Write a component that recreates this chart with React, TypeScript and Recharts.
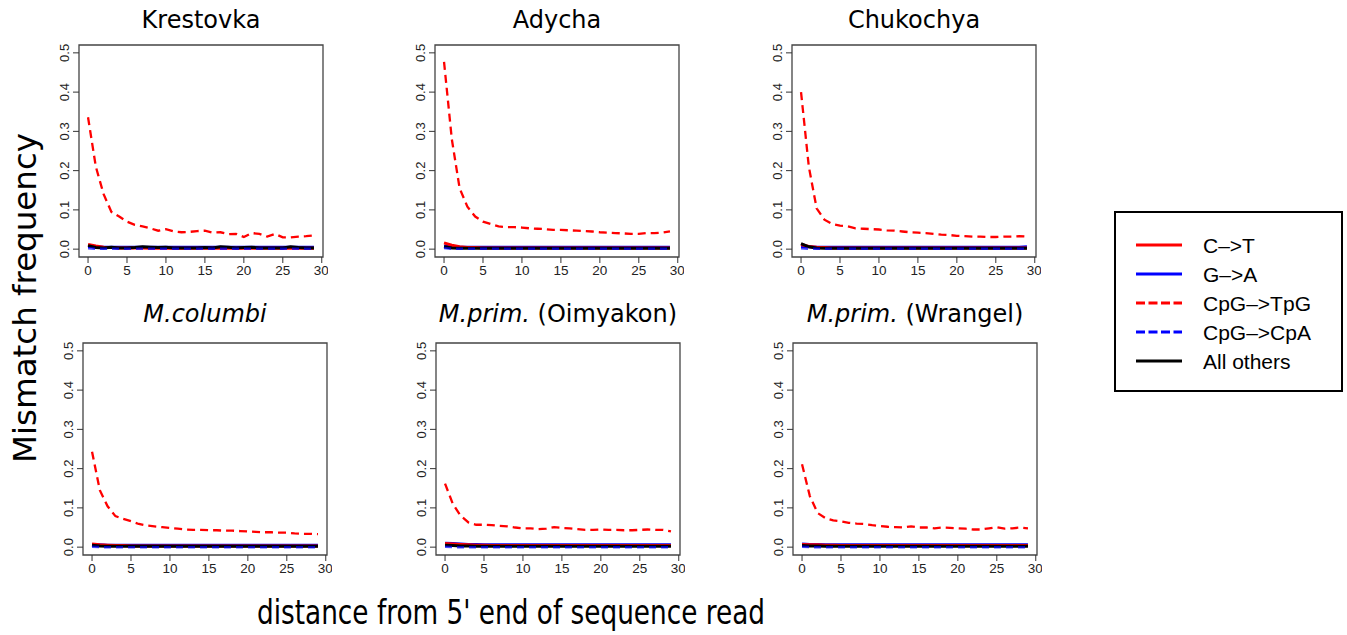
import React from "react";
import { LineChart, Line, XAxis, YAxis, ReferenceArea } from "recharts";

// read position along the read (0..29)
const POS = [0, 1, 2, 3, 4, 5, 6, 7, 8, 9, 10, 11, 12, 13, 14, 15, 16, 17, 18, 19, 20, 21, 22, 23, 24, 25, 26, 27, 28, 29];
const X_TICKS = [0, 5, 10, 15, 20, 25, 30];
const Y_TICKS = [0, 0.1, 0.2, 0.3, 0.4, 0.5];

const TITLES = ["Krestovka", "Adycha", "Chukochya", "M.columbi", "M.prim.|(Oimyakon)", "M.prim.|(Wrangel)"];

// CpG->TpG (red dashed)
const TPG_KRE = [0.336, 0.21, 0.14, 0.095, 0.083, 0.07, 0.062, 0.058, 0.053, 0.047, 0.051, 0.045, 0.043, 0.044, 0.046, 0.047, 0.042, 0.043, 0.038, 0.039, 0.031, 0.041, 0.039, 0.032, 0.039, 0.03, 0.03, 0.032, 0.033, 0.035];
const TPG_ADY = [0.477, 0.28, 0.155, 0.108, 0.083, 0.07, 0.064, 0.058, 0.056, 0.056, 0.055, 0.053, 0.052, 0.051, 0.049, 0.049, 0.048, 0.047, 0.046, 0.045, 0.043, 0.042, 0.041, 0.04, 0.039, 0.039, 0.041, 0.041, 0.042, 0.045];
const TPG_CHU = [0.4, 0.21, 0.104, 0.075, 0.064, 0.06, 0.058, 0.053, 0.052, 0.051, 0.05, 0.048, 0.047, 0.045, 0.043, 0.042, 0.041, 0.039, 0.037, 0.036, 0.034, 0.033, 0.032, 0.032, 0.031, 0.031, 0.032, 0.032, 0.033, 0.032];
const TPG_COL = [0.243, 0.145, 0.104, 0.079, 0.072, 0.066, 0.059, 0.055, 0.053, 0.051, 0.049, 0.047, 0.045, 0.044, 0.044, 0.043, 0.043, 0.042, 0.042, 0.041, 0.04, 0.039, 0.038, 0.038, 0.037, 0.037, 0.035, 0.034, 0.034, 0.033];
const TPG_OIM = [0.162, 0.11, 0.08, 0.063, 0.057, 0.057, 0.056, 0.054, 0.053, 0.05, 0.048, 0.048, 0.046, 0.047, 0.051, 0.049, 0.048, 0.046, 0.044, 0.044, 0.045, 0.044, 0.044, 0.043, 0.043, 0.044, 0.045, 0.044, 0.044, 0.04];
const TPG_WRA = [0.211, 0.13, 0.087, 0.074, 0.068, 0.066, 0.062, 0.06, 0.059, 0.056, 0.054, 0.052, 0.051, 0.05, 0.053, 0.05, 0.05, 0.048, 0.05, 0.049, 0.048, 0.047, 0.045, 0.045, 0.048, 0.051, 0.047, 0.048, 0.05, 0.048];

// C->T (red solid)
const CT_KRE = [0.012, 0.008, 0.005, 0.004, 0.003, 0.003, 0.003, 0.003, 0.002, 0.002, 0.002, 0.002, 0.002, 0.002, 0.002, 0.002, 0.002, 0.002, 0.002, 0.002, 0.002, 0.002, 0.002, 0.002, 0.002, 0.002, 0.002, 0.002, 0.002, 0.002];
const CT_ADY = [0.016, 0.01, 0.006, 0.004, 0.004, 0.003, 0.003, 0.003, 0.003, 0.003, 0.003, 0.003, 0.003, 0.003, 0.003, 0.003, 0.003, 0.003, 0.003, 0.003, 0.003, 0.003, 0.003, 0.003, 0.003, 0.003, 0.003, 0.003, 0.003, 0.003];
const CT_CHU = [0.012, 0.007, 0.005, 0.004, 0.003, 0.003, 0.003, 0.003, 0.003, 0.003, 0.003, 0.003, 0.003, 0.003, 0.003, 0.003, 0.003, 0.003, 0.003, 0.003, 0.003, 0.003, 0.003, 0.003, 0.003, 0.003, 0.003, 0.003, 0.003, 0.003];
const CT_COL = [0.008, 0.006, 0.005, 0.004, 0.004, 0.003, 0.003, 0.003, 0.003, 0.003, 0.003, 0.003, 0.003, 0.003, 0.003, 0.003, 0.003, 0.003, 0.003, 0.003, 0.003, 0.003, 0.003, 0.003, 0.003, 0.003, 0.003, 0.003, 0.003, 0.003];
const CT_OIM = [0.009, 0.008, 0.007, 0.006, 0.005, 0.005, 0.004, 0.004, 0.004, 0.004, 0.004, 0.004, 0.004, 0.004, 0.004, 0.004, 0.004, 0.004, 0.004, 0.004, 0.004, 0.004, 0.004, 0.004, 0.004, 0.004, 0.004, 0.004, 0.004, 0.004];
const CT_WRA = [0.007, 0.006, 0.006, 0.005, 0.005, 0.004, 0.004, 0.004, 0.004, 0.004, 0.004, 0.004, 0.004, 0.004, 0.004, 0.004, 0.004, 0.004, 0.004, 0.004, 0.004, 0.004, 0.004, 0.004, 0.004, 0.004, 0.004, 0.004, 0.004, 0.004];

// G->A (blue solid)
const GA_KRE = [0.007, 0.006, 0.005, 0.005, 0.005, 0.005, 0.005, 0.005, 0.005, 0.005, 0.005, 0.005, 0.005, 0.005, 0.005, 0.005, 0.005, 0.005, 0.005, 0.005, 0.005, 0.005, 0.005, 0.005, 0.005, 0.005, 0.005, 0.005, 0.005, 0.005];
const GA_ADY = [0.008, 0.006, 0.005, 0.005, 0.005, 0.005, 0.005, 0.005, 0.005, 0.005, 0.005, 0.005, 0.005, 0.005, 0.005, 0.005, 0.005, 0.005, 0.005, 0.005, 0.005, 0.005, 0.005, 0.005, 0.005, 0.005, 0.005, 0.005, 0.005, 0.005];
const GA_CHU = [0.007, 0.006, 0.005, 0.005, 0.005, 0.005, 0.005, 0.005, 0.005, 0.005, 0.005, 0.005, 0.005, 0.005, 0.005, 0.005, 0.005, 0.005, 0.005, 0.005, 0.005, 0.005, 0.005, 0.005, 0.005, 0.005, 0.005, 0.005, 0.005, 0.006];
const GA_COL = [0.006, 0.006, 0.005, 0.005, 0.005, 0.005, 0.005, 0.005, 0.005, 0.005, 0.005, 0.005, 0.005, 0.005, 0.005, 0.005, 0.005, 0.005, 0.005, 0.005, 0.005, 0.005, 0.005, 0.005, 0.005, 0.005, 0.005, 0.005, 0.005, 0.005];
const GA_OIM = [0.01, 0.009, 0.008, 0.007, 0.007, 0.006, 0.006, 0.006, 0.006, 0.006, 0.006, 0.006, 0.006, 0.006, 0.006, 0.006, 0.006, 0.006, 0.006, 0.006, 0.006, 0.006, 0.006, 0.006, 0.006, 0.006, 0.006, 0.006, 0.006, 0.006];
const GA_WRA = [0.008, 0.007, 0.007, 0.006, 0.006, 0.006, 0.006, 0.006, 0.006, 0.006, 0.006, 0.006, 0.006, 0.006, 0.006, 0.006, 0.006, 0.006, 0.006, 0.006, 0.006, 0.006, 0.006, 0.006, 0.006, 0.006, 0.006, 0.006, 0.006, 0.006];

// CpG->CpA (blue dashed)
const CPA_KRE = [0.002, 0.001, 0.001, 0.001, 0.001, 0.001, 0.001, 0.001, 0.001, 0.001, 0.001, 0.001, 0.001, 0.001, 0.001, 0.001, 0.001, 0.001, 0.001, 0.001, 0.001, 0.001, 0.001, 0.001, 0.001, 0.001, 0.001, 0.001, 0.001, 0.001];
const CPA_ADY = [0.003, 0.001, 0.001, 0.001, 0.001, 0.001, 0.001, 0.001, 0.001, 0.001, 0.001, 0.001, 0.001, 0.001, 0.001, 0.001, 0.001, 0.001, 0.001, 0.001, 0.001, 0.001, 0.001, 0.001, 0.001, 0.001, 0.001, 0.001, 0.001, 0.001];
const CPA_CHU = [0.002, 0.001, 0.001, 0.001, 0.001, 0.001, 0.001, 0.001, 0.001, 0.001, 0.001, 0.001, 0.001, 0.001, 0.001, 0.001, 0.001, 0.001, 0.001, 0.001, 0.001, 0.001, 0.001, 0.001, 0.001, 0.001, 0.001, 0.001, 0.001, 0.001];
const CPA_COL = [0.001, 0, 0, 0, 0, 0, 0, 0, 0, 0, 0, 0, 0, 0, 0, 0, 0, 0, 0, 0, 0, 0, 0, 0, 0, 0, 0, 0, 0, 0];
const CPA_OIM = [0.001, 0, 0, 0, 0, 0, 0, 0, 0, 0, 0, 0, 0, 0, 0, 0, 0, 0, 0, 0, 0, 0, 0, 0, 0, 0, 0, 0, 0, 0];
const CPA_WRA = [0.001, 0, 0, 0, 0, 0, 0, 0, 0, 0, 0, 0, 0, 0, 0, 0, 0, 0, 0, 0, 0, 0, 0, 0, 0, 0, 0, 0, 0, 0];

// All others (black solid)
const OTH_KRE = [0.009, 0.004, 0.003, 0.005, 0.003, 0.003, 0.004, 0.006, 0.005, 0.004, 0.005, 0.003, 0.003, 0.003, 0.003, 0.004, 0.003, 0.006, 0.005, 0.003, 0.004, 0.005, 0.003, 0.003, 0.003, 0.003, 0.006, 0.004, 0.003, 0.003];
const OTH_ADY = [0.006, 0.003, 0.002, 0.002, 0.002, 0.002, 0.002, 0.002, 0.002, 0.002, 0.002, 0.002, 0.002, 0.002, 0.002, 0.002, 0.002, 0.002, 0.002, 0.002, 0.002, 0.002, 0.002, 0.002, 0.002, 0.002, 0.002, 0.002, 0.002, 0.002];
const OTH_CHU = [0.014, 0.006, 0.003, 0.002, 0.002, 0.002, 0.002, 0.002, 0.002, 0.002, 0.002, 0.002, 0.002, 0.002, 0.002, 0.002, 0.002, 0.002, 0.002, 0.002, 0.002, 0.002, 0.002, 0.002, 0.002, 0.002, 0.002, 0.002, 0.002, 0.002];
const OTH_COL = [0.005, 0.003, 0.002, 0.002, 0.002, 0.002, 0.002, 0.002, 0.002, 0.002, 0.002, 0.002, 0.002, 0.002, 0.002, 0.002, 0.002, 0.002, 0.002, 0.002, 0.002, 0.002, 0.002, 0.002, 0.002, 0.002, 0.002, 0.002, 0.002, 0.002];
const OTH_OIM = [0.005, 0.004, 0.003, 0.003, 0.002, 0.002, 0.002, 0.002, 0.002, 0.002, 0.002, 0.002, 0.002, 0.002, 0.002, 0.002, 0.002, 0.002, 0.002, 0.002, 0.002, 0.002, 0.002, 0.002, 0.002, 0.002, 0.002, 0.002, 0.002, 0.002];
const OTH_WRA = [0.004, 0.003, 0.003, 0.002, 0.002, 0.002, 0.002, 0.002, 0.002, 0.002, 0.002, 0.002, 0.002, 0.002, 0.002, 0.002, 0.002, 0.002, 0.002, 0.002, 0.002, 0.002, 0.002, 0.002, 0.002, 0.002, 0.002, 0.002, 0.002, 0.002];

const PANELS = [
  { ct: CT_KRE, ga: GA_KRE, tpg: TPG_KRE, cpa: CPA_KRE, oth: OTH_KRE },
  { ct: CT_ADY, ga: GA_ADY, tpg: TPG_ADY, cpa: CPA_ADY, oth: OTH_ADY },
  { ct: CT_CHU, ga: GA_CHU, tpg: TPG_CHU, cpa: CPA_CHU, oth: OTH_CHU },
  { ct: CT_COL, ga: GA_COL, tpg: TPG_COL, cpa: CPA_COL, oth: OTH_COL },
  { ct: CT_OIM, ga: GA_OIM, tpg: TPG_OIM, cpa: CPA_OIM, oth: OTH_OIM },
  { ct: CT_WRA, ga: GA_WRA, tpg: TPG_WRA, cpa: CPA_WRA, oth: OTH_WRA },
];

const LEGEND = [
  { label: "C\u2013>T", color: "#ff0000", dash: false },
  { label: "G\u2013>A", color: "#0000ff", dash: false },
  { label: "CpG\u2013>TpG", color: "#ff0000", dash: true },
  { label: "CpG\u2013>CpA", color: "#0000ff", dash: true },
  { label: "All others", color: "#000000", dash: false },
];

const RED = "#ff0000";
const BLUE = "#0000ff";
const AXIS = "#333";
const SANS = "'Liberation Sans', Arial, Helvetica, sans-serif";
const VERD = "'DejaVu Sans', Verdana, sans-serif";

// plot-box geometry (R style, 4% padding around the data range)
const BOX_W = 244;
const BOX_H = 212;
const X_DOM: [number, number] = [-1.16, 30.16];
const Y_DOM: [number, number] = [-0.02, 0.52];
const BOX_POS = [
  [79, 45], [435, 45], [792, 45],
  [83, 343], [436, 343], [793, 343],
];
const Y_AXIS_W = 40;
const X_AXIS_H = 30;

function YTick(props: any) {
  const { x, y, payload } = props;
  return (
    <text
      transform={`translate(${x},${y}) rotate(-90)`}
      textAnchor="middle"
      fontSize={13}
      fontFamily={SANS}
      fill="#222"
    >
      {Number(payload.value).toFixed(1)}
    </text>
  );
}

function Panel({ idx }: { idx: number }) {
  const p = PANELS[idx];
  const [bx, by] = BOX_POS[idx];
  const data = POS.map((x, i) => ({
    x,
    ct: p.ct[i],
    ga: p.ga[i],
    tpg: p.tpg[i],
    cpa: p.cpa[i],
    oth: p.oth[i],
  }));
  return (
    <div style={{ position: "absolute", left: bx - Y_AXIS_W, top: by - 5 }}>
      <LineChart
        width={BOX_W + Y_AXIS_W + 5}
        height={BOX_H + 5 + X_AXIS_H}
        data={data}
        margin={{ top: 5, right: 5, left: 0, bottom: 0 }}
      >
        <XAxis
          dataKey="x"
          type="number"
          domain={X_DOM}
          ticks={X_TICKS}
          allowDataOverflow
          axisLine={false}
          tickSize={6}
          tickMargin={2}
          height={X_AXIS_H}
          stroke={AXIS}
          tick={{ fontSize: 13.5, fill: "#222", fontFamily: SANS }}
        />
        <YAxis
          type="number"
          domain={Y_DOM}
          ticks={Y_TICKS}
          allowDataOverflow
          axisLine={false}
          tickSize={6}
          tickMargin={4}
          width={Y_AXIS_W}
          stroke={AXIS}
          tick={<YTick />}
        />
        <ReferenceArea
          x1={X_DOM[0]}
          x2={X_DOM[1]}
          y1={Y_DOM[0]}
          y2={Y_DOM[1]}
          fill="none"
          stroke="#444"
          strokeWidth={1.3}
          ifOverflow="visible"
        />
        <Line type="linear" dataKey="ga" stroke={BLUE} strokeWidth={3} dot={false} isAnimationActive={false} />
        <Line type="linear" dataKey="ct" stroke={RED} strokeWidth={3} dot={false} isAnimationActive={false} />
        <Line type="linear" dataKey="oth" stroke="#000" strokeWidth={3} dot={false} isAnimationActive={false} />
        <Line type="linear" dataKey="cpa" stroke={BLUE} strokeWidth={2.5} strokeDasharray="7 5" strokeOpacity={0.7} dot={false} isAnimationActive={false} />
        <Line type="linear" dataKey="tpg" stroke={RED} strokeWidth={2.3} strokeDasharray="8 5" dot={false} isAnimationActive={false} />
      </LineChart>
    </div>
  );
}

function Title({ text, cx, y }: { text: string; cx: number; y: number }) {
  const [it, rest] = text.split("|");
  const italic = text.startsWith("M.");
  return (
    <text x={cx} y={y} textAnchor="middle" fontSize={24} fontFamily={VERD} fill="#000">
      {italic ? <tspan fontStyle="italic">{it}</tspan> : it}
      {rest ? <tspan>{" " + rest}</tspan> : null}
    </text>
  );
}

export default function App() {
  return (
    <div style={{ position: "absolute", left: 0, top: 0, width: 1347, height: 635, background: "#fff" }}>
      {PANELS.map((_, i) => (
        <Panel key={i} idx={i} />
      ))}
      <svg width={1347} height={635} style={{ position: "absolute", left: 0, top: 0, pointerEvents: "none" }}>
        {TITLES.map((t, i) => (
          <Title key={t} text={t} cx={BOX_POS[i][0] + BOX_W / 2} y={i < 3 ? 28 : 322} />
        ))}
        <text
          transform="translate(36,298) rotate(-90)"
          textAnchor="middle"
          fontSize={32}
          fontFamily={VERD}
          textLength={330}
          lengthAdjust="spacingAndGlyphs"
        >
          Mismatch frequency
        </text>
        <text x={257} y={624} fontSize={33} fontFamily={VERD} textLength={508} lengthAdjust="spacingAndGlyphs">
          distance from 5' end of sequence read
        </text>
        <rect x={1115} y={212} width={227} height={179} fill="#fff" stroke="#000" strokeWidth={2} />
        {LEGEND.map((l, i) => {
          const y = 245 + i * 29;
          return (
            <g key={l.label}>
              <line
                x1={1136}
                x2={1182}
                y1={y}
                y2={y}
                stroke={l.color}
                strokeWidth={3}
                strokeDasharray={l.dash ? "9 3.5" : undefined}
              />
              <text x={1203} y={y + 7.5} fontSize={21} fontFamily={SANS} fill="#000">
                {l.label}
              </text>
            </g>
          );
        })}
      </svg>
    </div>
  );
}
